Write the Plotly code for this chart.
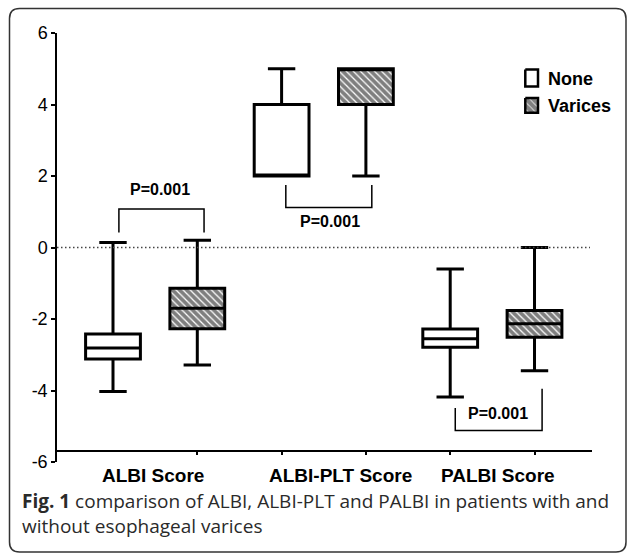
import plotly.graph_objects as go

# ---------------- data ----------------
groups = ["ALBI Score", "ALBI-PLT Score", "PALBI Score"]
series = ["None", "Varices"]

none_lower = [-4.03, 2.0, -4.18]
none_q1 = [-3.12, 2.0, -2.79]
none_median = [-2.81, 2.0, -2.55]
none_q3 = [-2.42, 4.0, -2.28]
none_upper = [0.14, 5.0, -0.60]

var_lower = [-3.29, 2.0, -3.45]
var_q1 = [-2.27, 4.0, -2.51]
var_median = [-1.70, 5.0, -2.13]
var_q3 = [-1.14, 5.0, -1.76]
var_upper = [0.20, 5.0, 0.00]

p_labels = ["P=0.001", "P=0.001", "P=0.001"]
y_ticks = [-6, -4, -2, 0, 2, 4, 6]
y_ticktext = ["-6", "-4", "-2", "0", "2", "4", "6"]

caption_bold = "Fig. 1"
caption_text = ("comparison of ALBI, ALBI-PLT and PALBI in patients with and"
                "<br>without esophageal varices")

# ---------------- layout geometry ----------------
W, H = 627, 555
ML, MR, MT, MB = 57, 35, 33, 93
PW, PH = W - ML - MR, H - MT - MB


def px_x(x):
    return (x - ML) / PW


def px_y(y):
    return (H - MB - y) / PH


BOX_W = 0.65
AX_FONT = "Liberation Sans, Arial, sans-serif"

fig = go.Figure()

# box plots
for i, g in enumerate(groups):
    pos_none = 2 * i + 1
    pos_var = 2 * i + 2
    for pos, lo, q1, md, q3, up, name in [
        (pos_none, none_lower[i], none_q1[i], none_median[i], none_q3[i], none_upper[i], series[0]),
        (pos_var, var_lower[i], var_q1[i], var_median[i], var_q3[i], var_upper[i], series[1]),
    ]:
        fig.add_trace(go.Box(
            x=[pos], q1=[q1], median=[md], q3=[q3], lowerfence=[lo], upperfence=[up],
            width=BOX_W, whiskerwidth=0.5, fillcolor="white",
            line=dict(color="black", width=3), name=name, showlegend=False,
            hoverinfo="skip",
        ))

# hatch overlays for the varices boxes
for i in range(len(groups)):
    pos = 2 * i + 2
    l, r = pos - BOX_W / 2, pos + BOX_W / 2
    fig.add_trace(go.Scatter(
        x=[l, r, r, l, l], y=[var_q1[i], var_q1[i], var_q3[i], var_q3[i], var_q1[i]],
        mode="lines", fill="toself", fillcolor="rgba(0,0,0,0)",
        fillpattern=dict(shape="\\", fgcolor="black", bgcolor="rgba(0,0,0,0)",
                         size=5, solidity=0.75),
        line=dict(width=0), showlegend=False, hoverinfo="skip",
    ))

# legend icons (pixel overlay axes)
fig.add_trace(go.Scatter(
    x=[525.3, 538, 538, 525.3, 525.3], y=[69.5, 69.5, 86.5, 86.5, 69.5],
    xaxis="x2", yaxis="y2", mode="lines", fill="toself", fillcolor="white",
    line=dict(color="black", width=2.5), showlegend=False, hoverinfo="skip"))
fig.add_trace(go.Scatter(
    x=[525.3, 538, 538, 525.3, 525.3], y=[98, 98, 112.7, 112.7, 98],
    xaxis="x2", yaxis="y2", mode="lines", fill="toself", fillcolor="white",
    fillpattern=dict(shape="\\", fgcolor="black", bgcolor="white", size=5, solidity=0.85),
    line=dict(color="black", width=2.5), showlegend=False, hoverinfo="skip"))

annotations = []
for txt, yc in zip(series, [78.5, 106]):
    annotations.append(dict(x=545.5, y=yc, xref="x2", yref="y2", text="<b>%s</b>" % txt,
                            showarrow=False, xanchor="left", yanchor="middle",
                            font=dict(family=AX_FONT, size=18, color="black")))

# category labels (below the axis, in plot-fraction coordinates)
cat_x = [1.47, 3.70, 5.57]
for g, cx in zip(groups, cat_x):
    annotations.append(dict(x=cx, y=px_y(475), xref="x", yref="paper", text="<b>%s</b>" % g,
                            showarrow=False, xanchor="center", yanchor="middle",
                            font=dict(family=AX_FONT, size=19, color="black")))

# significance brackets
shapes = []
brackets = [
    # (x_left, x_right, y_left_end, y_right_end, y_bar, label_x, label_y)
    (1.07, 2.08, 0.42, 0.42, 1.08, 1.56, 1.61),
    (3.05, 4.07, 1.75, 1.75, 1.12, 3.57, 0.73),
    (5.06, 6.09, -4.49, -3.95, -5.12, 5.57, -4.63),
]
for (xl, xr, yl, yr, yb, lx, ly), lab in zip(brackets, p_labels):
    shapes.append(dict(type="path", xref="x", yref="y",
                       path="M %f,%f L %f,%f L %f,%f L %f,%f" % (xl, yl, xl, yb, xr, yb, xr, yr),
                       line=dict(color="black", width=1.5)))
    annotations.append(dict(x=lx, y=ly, xref="x", yref="y", text="<b>%s</b>" % lab,
                            showarrow=False, xanchor="center", yanchor="middle",
                            font=dict(family=AX_FONT, size=16, color="black")))

# dotted zero line
shapes.append(dict(type="line", xref="paper", yref="y", x0=0, x1=px_x(590), y0=0, y1=0,
                   line=dict(color="#444", width=1.5, dash="1.5px,2.5px")))

# rounded frame
L, R, T, B, rr = 9.5, 626, 8.5, 552, 10
fx = lambda v: px_x(v)
fy = lambda v: px_y(v)
frame = ("M %f,%f L %f,%f Q %f,%f %f,%f L %f,%f Q %f,%f %f,%f L %f,%f Q %f,%f %f,%f L %f,%f Q %f,%f %f,%f Z" % (
    fx(L + rr), fy(T), fx(R - rr), fy(T),
    fx(R), fy(T), fx(R), fy(T + rr),
    fx(R), fy(B - rr),
    fx(R), fy(B), fx(R - rr), fy(B),
    fx(L + rr), fy(B),
    fx(L), fy(B), fx(L), fy(B - rr),
    fx(L), fy(T + rr),
    fx(L), fy(T), fx(L + rr), fy(T)))
shapes.append(dict(type="path", xref="paper", yref="paper", path=frame,
                   line=dict(color="#333", width=1.5), layer="below"))

# caption
annotations.append(dict(x=px_x(20), y=px_y(513), xref="paper", yref="paper",
                        text="<b>%s</b> %s" % (caption_bold, caption_text),
                        showarrow=False, xanchor="left", yanchor="middle", align="left",
                        font=dict(family="Open Sans, sans-serif", size=19, color="#2a2a2a")))

fig.update_layout(
    width=W, height=H, margin=dict(l=ML, r=MR, t=MT, b=MB),
    paper_bgcolor="white", plot_bgcolor="white", showlegend=False,
    xaxis=dict(range=[0.3357, 6.682], anchor="free", position=11 / PH,
               showline=True, linecolor="black", linewidth=1.5,
               ticks="outside", ticklen=3, tickwidth=1.5, tickcolor="black",
               tickvals=[2, 3, 4, 5, 6], showticklabels=False,
               showgrid=False, zeroline=False),
    yaxis=dict(range=[-6, 6], showline=True, linecolor="black", linewidth=1.5,
               ticks="outside", ticklen=4, tickwidth=1.5, tickcolor="black",
               tickvals=y_ticks, ticktext=y_ticktext, showgrid=False, zeroline=False,
               tickfont=dict(family=AX_FONT, size=18, color="black")),
    xaxis2=dict(overlaying="x", range=[ML, W - MR], visible=False),
    yaxis2=dict(overlaying="y", range=[H - MB, MT], visible=False),
    shapes=shapes, annotations=annotations,
)

fig.write_html("out.html")
